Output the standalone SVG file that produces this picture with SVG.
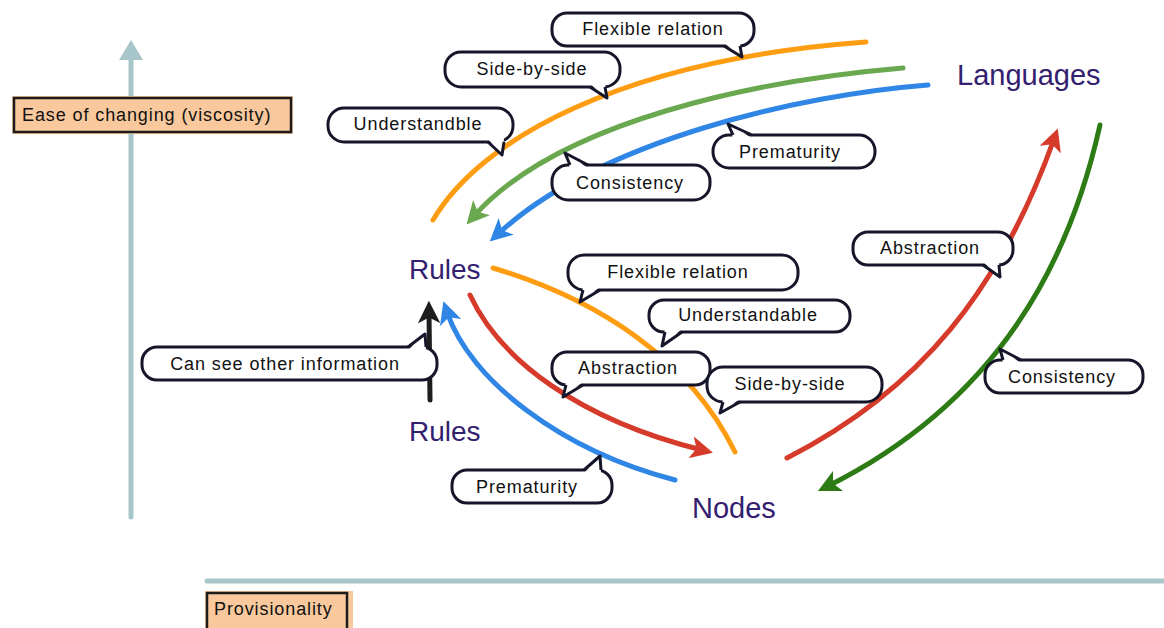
<svg xmlns="http://www.w3.org/2000/svg" width="1164" height="628" viewBox="0 0 1164 628">
<style>
.ax{stroke:#a7c6c9;stroke-width:5;stroke-linecap:round;fill:none}
.lab{fill:#f9c99d;stroke:#1c1c1c;stroke-width:2.5}
.labt{font-family:"Liberation Sans",Arial,sans-serif;font-size:18px;letter-spacing:0.9px;fill:#111}
.c{fill:none;stroke-width:5;stroke-linecap:round}
.bub{fill:#fff;stroke:#16162a;stroke-width:3}
.tailf{fill:#fff;stroke:none}
.tails{fill:none;stroke:#16162a;stroke-width:3;stroke-linejoin:round}
.bt{font-family:"Liberation Sans",Arial,sans-serif;font-size:18px;letter-spacing:0.9px;fill:#111;text-anchor:middle;dominant-baseline:central}
.node{font-family:"Liberation Sans",Arial,sans-serif;fill:#33206f}
</style>
<defs>
<marker id="mg" viewBox="0 0 10 10" refX="5" refY="5" markerWidth="4.5" markerHeight="4.5" orient="auto" markerUnits="strokeWidth"><path d="M0,0 L10,5 L0,10 L2.5,5 z" fill="#6aa84f"/></marker>
<marker id="mb" viewBox="0 0 10 10" refX="5" refY="5" markerWidth="4.5" markerHeight="4.5" orient="auto" markerUnits="strokeWidth"><path d="M0,0 L10,5 L0,10 L2.5,5 z" fill="#2f86e5"/></marker>
<marker id="mr" viewBox="0 0 10 10" refX="5" refY="5" markerWidth="4.5" markerHeight="4.5" orient="auto" markerUnits="strokeWidth"><path d="M0,0 L10,5 L0,10 L2.5,5 z" fill="#d63a2a"/></marker>
<marker id="md" viewBox="0 0 10 10" refX="5" refY="5" markerWidth="4.5" markerHeight="4.5" orient="auto" markerUnits="strokeWidth"><path d="M0,0 L10,5 L0,10 L2.5,5 z" fill="#2d7b15"/></marker>
<marker id="mk" viewBox="0 0 10 10" refX="5" refY="5" markerWidth="4.5" markerHeight="4.5" orient="auto" markerUnits="strokeWidth"><path d="M0,0 L10,5 L0,10 L2.5,5 z" fill="#1e1e1e"/></marker>
</defs>
<rect width="1164" height="628" fill="#fff"/>

<g id="axes">
<line class="ax" x1="131" y1="517" x2="131" y2="58"/>
<path d="M131,40 L143,60 L119,60 z" fill="#a7c6c9"/>
<line class="ax" x1="207" y1="581" x2="1164" y2="581"/>
</g>

<g id="axis-y-label">
<rect x="12" y="96" width="281" height="38" fill="#f9c99d"/>
<rect class="lab" x="14" y="98" width="277" height="34"/>
<text class="labt" x="22" y="121">Ease of changing (viscosity)</text>
</g>
<g id="axis-x-label">
<rect x="205" y="591" width="148" height="37" fill="#f9c99d"/>
<rect class="lab" x="207" y="593" width="140" height="38"/>
<text class="labt" x="214" y="615">Provisionality</text>
</g>

<g id="connectors">
<path class="c" stroke="#ff9d12" d="M433,220 C480,140 620,60 866,42"/>
<path class="c" stroke="#6aa84f" d="M903,68 C760,80 560,120 474,216" marker-end="url(#mg)"/>
<path class="c" stroke="#2f86e5" d="M928,85 C800,95 600,140 498,234" marker-end="url(#mb)"/>
<path class="c" stroke="#ff9d12" d="M493,268 C600,300 690,360 735,452"/>
<path class="c" stroke="#d63a2a" d="M470,295 C500,360 580,420 702,450" marker-end="url(#mr)"/>
<path class="c" stroke="#2f86e5" d="M675,480 C560,450 470,380 447,312" marker-end="url(#mb)"/>
<path class="c" stroke="#1e1e1e" d="M430,400 L429,312" marker-end="url(#mk)"/>
<path class="c" stroke="#d63a2a" d="M787,458 C920,390 1000,290 1054,139" marker-end="url(#mr)"/>
<path class="c" stroke="#2d7b15" d="M1100,125 C1070,260 1000,400 828,486" marker-end="url(#md)"/>
</g>

<g id="node-languages"><text class="node" x="957" y="85" font-size="29">Languages</text></g>
<g id="node-rules-top"><text class="node" x="409" y="279" font-size="28">Rules</text></g>
<g id="node-rules-bottom"><text class="node" x="409" y="441" font-size="28">Rules</text></g>
<g id="node-nodes"><text class="node" x="692" y="518" font-size="29">Nodes</text></g>

<g id="callout-flexible-top">
<rect class="bub" x="552" y="13" width="202" height="33" rx="15"/>
<polygon class="tailf" points="724,43 740,43 742,57"/>
<polyline class="tails" points="724,46 742,57 740,46"/>
<text class="bt" x="653" y="29">Flexible relation</text>
</g>
<g id="callout-sidebyside-top">
<rect class="bub" x="445" y="52" width="175" height="35" rx="16"/>
<polygon class="tailf" points="590,84 605,84 607,98"/>
<polyline class="tails" points="590,87 607,98 605,87"/>
<text class="bt" x="532" y="69">Side-by-side</text>
</g>
<g id="callout-understandble">
<rect class="bub" x="328" y="108" width="185" height="34" rx="16"/>
<polygon class="tailf" points="488,139 504,139 502,155"/>
<polyline class="tails" points="488,142 502,155 504,142"/>
<text class="bt" x="418" y="124">Understandble</text>
</g>
<g id="callout-consistency-top">
<rect class="bub" x="552" y="165" width="158" height="35" rx="16"/>
<polygon class="tailf" points="570,168 588,168 565,153"/>
<polyline class="tails" points="570,165 565,153 588,165"/>
<text class="bt" x="630" y="183">Consistency</text>
</g>
<g id="callout-prematurity-top">
<rect class="bub" x="713" y="135" width="162" height="33" rx="16"/>
<polygon class="tailf" points="733,138 752,138 728,124"/>
<polyline class="tails" points="733,135 728,124 752,135"/>
<text class="bt" x="790" y="152">Prematurity</text>
</g>
<g id="callout-flexible-mid">
<rect class="bub" x="568" y="255" width="230" height="35" rx="16"/>
<polygon class="tailf" points="583,287 600,287 580,302"/>
<polyline class="tails" points="583,290 580,302 600,290"/>
<text class="bt" x="678" y="272">Flexible relation</text>
</g>
<g id="callout-understandable">
<rect class="bub" x="649" y="300" width="201" height="32" rx="15"/>
<polygon class="tailf" points="665,329 682,329 662,346"/>
<polyline class="tails" points="665,332 662,346 682,332"/>
<text class="bt" x="748" y="315">Understandable</text>
</g>
<g id="callout-abstraction-mid">
<rect class="bub" x="552" y="352" width="158" height="33" rx="15"/>
<polygon class="tailf" points="566,382 583,382 563,397"/>
<polyline class="tails" points="566,385 563,397 583,385"/>
<text class="bt" x="628" y="368">Abstraction</text>
</g>
<g id="callout-sidebyside-mid">
<rect class="bub" x="707" y="367" width="175" height="35" rx="16"/>
<polygon class="tailf" points="723,399 740,399 720,413"/>
<polyline class="tails" points="723,402 720,413 740,402"/>
<text class="bt" x="790" y="384">Side-by-side</text>
</g>
<g id="callout-prematurity-low">
<rect class="bub" x="452" y="470" width="160" height="33" rx="15"/>
<polygon class="tailf" points="584,473 601,473 600,456"/>
<polyline class="tails" points="584,470 600,456 601,470"/>
<text class="bt" x="527" y="487">Prematurity</text>
</g>
<g id="callout-abstraction-right">
<rect class="bub" x="853" y="232" width="160" height="33" rx="15"/>
<polygon class="tailf" points="983,262 999,262 1000,277"/>
<polyline class="tails" points="983,265 1000,277 999,265"/>
<text class="bt" x="930" y="248">Abstraction</text>
</g>
<g id="callout-consistency-right">
<rect class="bub" x="985" y="360" width="158" height="33" rx="15"/>
<polygon class="tailf" points="1003,363 1021,363 1000,349"/>
<polyline class="tails" points="1003,360 1000,349 1021,360"/>
<text class="bt" x="1062" y="377">Consistency</text>
</g>
<g id="callout-can-see">
<rect class="bub" x="142" y="347" width="295" height="33" rx="15"/>
<polygon class="tailf" points="408,350 426,350 425,334"/>
<polyline class="tails" points="408,347 425,334 426,347"/>
<text class="bt" x="285" y="364">Can see other information</text>
</g>
</svg>
